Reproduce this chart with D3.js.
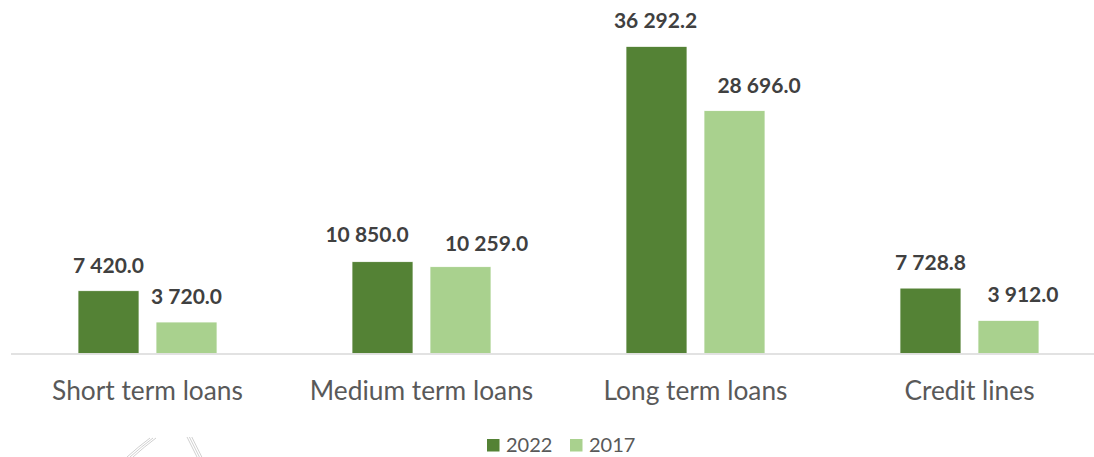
<!DOCTYPE html>
<html>
<head>
<meta charset="utf-8">
<script src="https://cdn.jsdelivr.net/npm/d3@7"></script>
<style>
  html, body { margin: 0; padding: 0; background: #ffffff; }
  svg { display: block; }
</style>
</head>
<body>
<svg id="chart" width="1094" height="457"></svg>
<script>
// Loan portfolio by type, 2022 vs 2017
const categories = ["Short term loans", "Medium term loans", "Long term loans", "Credit lines"];
const seriesNames = ["2022", "2017"];
const values2022 = [7420.0, 10850.0, 36292.2, 7728.8];
const values2017 = [3720.0, 10259.0, 28696.0, 3912.0];
const seriesColors = ["#548235", "#a9d18e"];

const seriesValues = [values2022, values2017];
const rows = categories.map((c, i) => ({
  category: c,
  bars: seriesNames.map((s, j) => ({ series: s, index: i, value: seriesValues[j][i], color: seriesColors[j] }))
}));

const svg = d3.select("#chart");
const font = "Lato, 'Open Sans', sans-serif";

const x0 = d3.scaleBand()
  .domain(categories)
  .range([10.5, 1106.5])
  .paddingInner(0.4927)
  .paddingOuter(0.2464);

const x1 = d3.scaleBand()
  .domain(seriesNames)
  .range([0, x0.bandwidth()])
  .paddingInner(0.218);

const y = d3.scaleLinear().domain([0, 40000]).range([353.5, 15]);

const fmt = v => d3.format(",.1f")(v).replace(/,/g, " ");

// hand-placed label nudges [dx, dy] so neighbouring labels don't collide
const labelNudge = {
  "2022": [[0, 0], [-15.5, -1.5], [-1, 0], [0, 0]],
  "2017": [[0, 0], [26, 2.5], [24.5, 0], [14.5, 0]]
};

// bars
const groups = svg.append("g").selectAll("g")
  .data(rows)
  .join("g")
  .attr("transform", d => `translate(${x0(d.category)},0)`);

groups.selectAll("rect")
  .data(d => d.bars)
  .join("rect")
  .attr("x", d => x1(d.series))
  .attr("y", d => y(d.value))
  .attr("width", x1.bandwidth())
  .attr("height", d => y(0) - y(d.value))
  .attr("fill", d => d.color)
  .attr("stroke", "#ffffff")
  .attr("stroke-width", 0.75);

// value labels
groups.selectAll("text.value")
  .data(d => d.bars)
  .join("text")
  .attr("class", "value")
  .attr("x", d => x1(d.series) + x1.bandwidth() / 2 + labelNudge[d.series][d.index][0])
  .attr("y", d => y(d.value) - 18 + labelNudge[d.series][d.index][1])
  .attr("text-anchor", "middle")
  .attr("font-family", font)
  .attr("font-weight", "bold")
  .attr("font-size", 21)
  .attr("fill", "#404040")
  .text(d => fmt(d.value));

// category axis
const axis = svg.append("g")
  .attr("transform", `translate(0,${y(0)})`)
  .call(d3.axisBottom(x0).tickSize(0));
axis.select(".domain").attr("stroke", "#d9d9d9").attr("stroke-width", 1.5);
axis.selectAll("text")
  .attr("y", 46)
  .attr("dy", 0)
  .attr("font-family", font)
  .attr("font-size", 26.3)
  .attr("fill", "#595959");

// legend
const legendItems = [
  { name: "2022", color: seriesColors[0], x: 487 },
  { name: "2017", color: seriesColors[1], x: 570 }
];
const legend = svg.append("g").selectAll("g")
  .data(legendItems)
  .join("g")
  .attr("transform", d => `translate(${d.x},439)`);
legend.append("rect")
  .attr("width", 12.5).attr("height", 12.5)
  .attr("fill", d => d.color);
legend.append("text")
  .attr("x", 19).attr("y", 13.3)
  .attr("font-family", font)
  .attr("font-size", 20)
  .attr("fill", "#595959")
  .text(d => d.name);

// faint logo strokes in the lower left corner
const logo = svg.append("g").attr("fill", "none").attr("stroke", "#d0d0d0").attr("stroke-width", 1);
[0, 3, 6].forEach(o => {
  logo.append("path").attr("d", `M${150 + o},438 Q${138 + o},447 ${127 + o},457`);
  logo.append("path").attr("d", `M${187 + o * 0.8},437 L${197 + o * 0.8},457`);
});
</script>
</body>
</html>
